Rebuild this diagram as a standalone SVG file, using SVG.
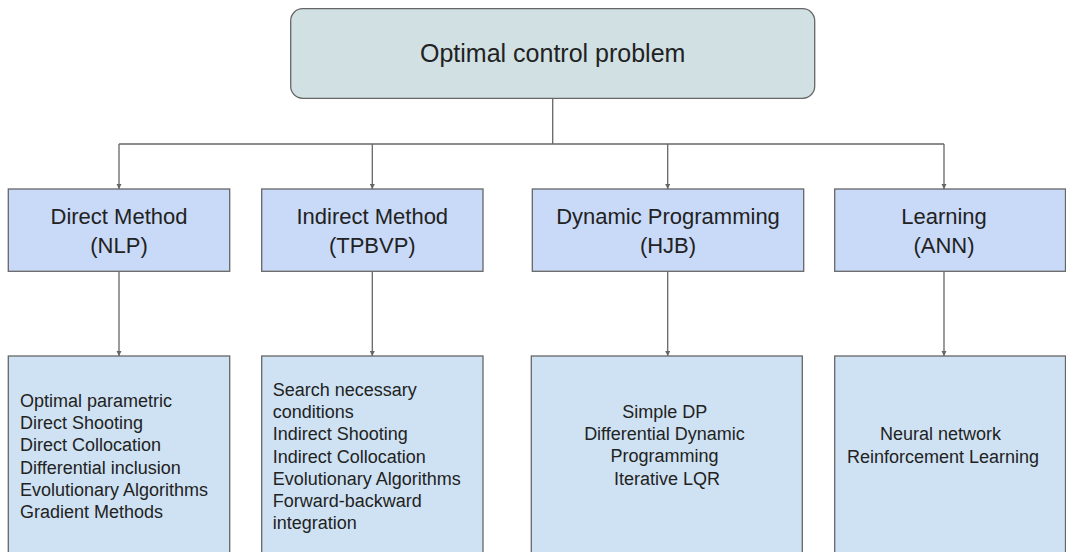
<svg xmlns="http://www.w3.org/2000/svg" width="1066" height="552" viewBox="0 0 1066 552">
  <style>
    .box { stroke: #666666; stroke-width: 1.3; }
    .root { fill: #d0e0e3; }
    .method { fill: #c9daf8; }
    .detail { fill: #cfe2f3; }
    .wire { fill: none; stroke: #666666; stroke-width: 1.3; }
    text { font-family: "Liberation Sans", Arial, sans-serif; fill: #222222; }
    .t-root { font-size: 25px; text-anchor: middle; }
    .t-method { font-size: 22px; text-anchor: middle; }
    .t-detail { font-size: 18px; }
    .mid { text-anchor: middle; }
  </style>
  <defs>
    <marker id="arrow" viewBox="0 0 10 10" refX="10" refY="5" markerWidth="4" markerHeight="4" orient="auto" markerUnits="strokeWidth">
      <path d="M0,0 L10,5 L0,10 Z" fill="#666666"/>
    </marker>
  </defs>

  <!-- connectors -->
  <g id="connectors">
    <path class="wire" d="M552.7,98.5 V144"/>
    <path class="wire" d="M119,144 H944"/>
    <path class="wire" d="M119,144 V189" marker-end="url(#arrow)"/>
    <path class="wire" d="M372.3,144 V189" marker-end="url(#arrow)"/>
    <path class="wire" d="M667.7,144 V189" marker-end="url(#arrow)"/>
    <path class="wire" d="M944,144 V189" marker-end="url(#arrow)"/>
    <path class="wire" d="M119,271.5 V356" marker-end="url(#arrow)"/>
    <path class="wire" d="M372.3,271.5 V356" marker-end="url(#arrow)"/>
    <path class="wire" d="M667.7,271.5 V356" marker-end="url(#arrow)"/>
    <path class="wire" d="M944,271.5 V356" marker-end="url(#arrow)"/>
  </g>

  <!-- root -->
  <g id="node-root">
    <rect class="box root" x="290.7" y="8.7" width="524" height="89.6" rx="12" ry="12"/>
    <text class="t-root" x="552.7" y="62">Optimal control problem</text>
  </g>

  <!-- method families -->
  <g id="node-direct">
    <rect class="box method" x="8.3" y="189" width="221.4" height="82.3"/>
    <text class="t-method" x="119" y="224">Direct Method</text>
    <text class="t-method" x="119" y="253">(NLP)</text>
  </g>
  <g id="node-indirect">
    <rect class="box method" x="261.7" y="189" width="221.3" height="82.3"/>
    <text class="t-method" x="372.3" y="224">Indirect Method</text>
    <text class="t-method" x="372.3" y="253">(TPBVP)</text>
  </g>
  <g id="node-dp">
    <rect class="box method" x="532.3" y="189" width="271.4" height="82.3"/>
    <text class="t-method" x="668" y="224">Dynamic Programming</text>
    <text class="t-method" x="668" y="253">(HJB)</text>
  </g>
  <g id="node-learning">
    <rect class="box method" x="834.7" y="189" width="230.8" height="82.3"/>
    <text class="t-method" x="944" y="224">Learning</text>
    <text class="t-method" x="944" y="253">(ANN)</text>
  </g>

  <!-- techniques -->
  <g id="node-direct-list">
    <rect class="box detail" x="8.3" y="356" width="221.4" height="210"/>
    <text class="t-detail" x="20" y="407">
      <tspan x="20" y="407">Optimal parametric</tspan>
      <tspan x="20" y="429.2">Direct Shooting</tspan>
      <tspan x="20" y="451.4">Direct Collocation</tspan>
      <tspan x="20" y="473.6">Differential inclusion</tspan>
      <tspan x="20" y="495.8">Evolutionary Algorithms</tspan>
      <tspan x="20" y="518">Gradient Methods</tspan>
    </text>
  </g>
  <g id="node-indirect-list">
    <rect class="box detail" x="261.7" y="356" width="221.3" height="210"/>
    <text class="t-detail" x="272.7" y="396">
      <tspan x="272.7" y="396">Search necessary</tspan>
      <tspan x="272.7" y="418.2">conditions</tspan>
      <tspan x="272.7" y="440.4">Indirect Shooting</tspan>
      <tspan x="272.7" y="462.6">Indirect Collocation</tspan>
      <tspan x="272.7" y="484.8">Evolutionary Algorithms</tspan>
      <tspan x="272.7" y="507">Forward-backward</tspan>
      <tspan x="272.7" y="529.2">integration</tspan>
    </text>
  </g>
  <g id="node-dp-list">
    <rect class="box detail" x="531.3" y="356" width="271" height="210"/>
    <text class="t-detail mid" x="667" y="418">
      <tspan x="667" y="418">Simple DP</tspan>
      <tspan x="667" y="440.2">Differential Dynamic</tspan>
      <tspan x="667" y="462.4">Programming</tspan>
      <tspan x="667" y="484.6">Iterative LQR</tspan>
    </text>
  </g>
  <g id="node-learning-list">
    <rect class="box detail" x="834.7" y="356" width="230.8" height="210"/>
    <text class="t-detail mid" x="943" y="440">
      <tspan x="943" y="440">Neural network</tspan>
      <tspan x="943" y="462.5">Reinforcement Learning</tspan>
    </text>
  </g>
</svg>
